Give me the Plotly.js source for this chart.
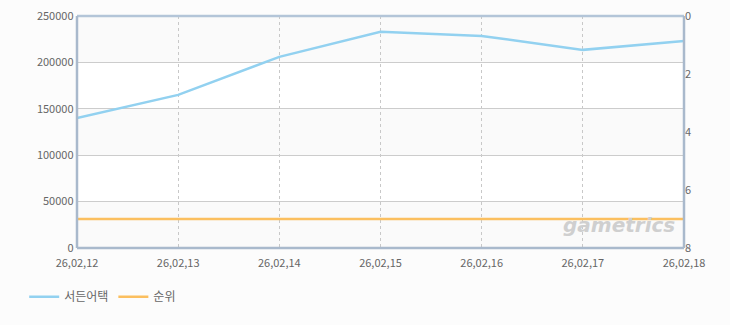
<!DOCTYPE html>
<html><head><meta charset="utf-8">
<script src="https://cdn.plot.ly/plotly-3.0.1.min.js"></script>
<style>body{margin:0;background:#fcfcfc;}#c{width:730px;height:325px;}</style>
</head><body><div id="c"></div>
<script>
const dates = ['26,02,12','26,02,13','26,02,14','26,02,15','26,02,16','26,02,17','26,02,18'];
const viewers = [140000, 165000, 206000, 233000, 228500, 213500, 223000];
const ranks = [7, 7, 7, 7, 7, 7, 7];
const seriesNames = ['서든어택', '순위'];
const bandRanges = [[0,50000],[100000,150000],[200000,250000]];

const font = 'Noto Sans CJK KR, Noto Sans, sans-serif';
const traces = [
  {x: dates, y: viewers, name: seriesNames[0], type:'scatter', mode:'lines',
   line:{color:'#92d1f0', width:2.5}, yaxis:'y', hoverinfo:'none'},
  {x: dates, y: ranks, name: seriesNames[1], type:'scatter', mode:'lines',
   line:{color:'#fbbf5f', width:2.5}, yaxis:'y2', hoverinfo:'none'}
];
const shapes = bandRanges.map(b => ({type:'rect', xref:'paper', yref:'y', x0:0, x1:1, y0:b[0], y1:b[1],
  fillcolor:'#fafafa', line:{width:0}, layer:'below'}));
shapes.push({type:'line', xref:'paper', yref:'paper', x0:0, x1:1, y0:1, y1:1, line:{color:'#b3c5d8', width:2.5}});
shapes.push({type:'line', xref:'paper', yref:'paper', x0:0, x1:0, y0:0, y1:1, line:{color:'#a9b9cc', width:2.5}});
shapes.push({type:'line', xref:'paper', yref:'paper', x0:1, x1:1, y0:0, y1:1, line:{color:'#a9b9cc', width:2.5}});
shapes.push({type:'line', xref:'paper', yref:'paper', x0:0, x1:1, y0:0, y1:0, line:{color:'#a9b9cc', width:2.5}});

const layout = {
  width:730, height:325,
  paper_bgcolor:'#fcfcfc', plot_bgcolor:'#ffffff',
  margin:{l:77, r:46, t:16, b:77},
  font:{family:font, size:11, color:'#666'},
  showlegend:true,
  legend:{orientation:'h', x:-0.087, xanchor:'left', y:-0.21, yanchor:'middle',
    font:{size:12, color:'#666', family:font}, bgcolor:'rgba(0,0,0,0)', itemwidth:30},
  xaxis:{type:'category', range:[0,6], showgrid:true, gridcolor:'#c8c8c8', griddash:'3px,3px', gridwidth:1,
    zeroline:false, showline:false, ticks:'', ticklabelstandoff:7, tickfont:{size:11, color:'#666'}, fixedrange:true},
  yaxis:{range:[0,250000], dtick:50000, showgrid:true, gridcolor:'#cccccc', zeroline:false,
    showline:false, ticks:'', tickfont:{size:11, color:'#666'}, tickformat:'d', ticksuffix:' '},
  yaxis2:{overlaying:'y', side:'right', range:[8,0], dtick:2, showgrid:false, zeroline:false,
    showline:false, ticks:'', tickfont:{size:11, color:'#666'}},
  shapes: shapes,
  annotations:[{text:'<b><i>gametrics</i></b>', xref:'paper', yref:'paper', x:0.893, xanchor:'center', y:0.1, yanchor:'middle',
    showarrow:false, font:{size:20, color:'#cfcfcf', family:'DejaVu Sans, sans-serif'}}]
};
Plotly.newPlot('c', traces, layout, {staticPlot:true});
</script></body></html>
